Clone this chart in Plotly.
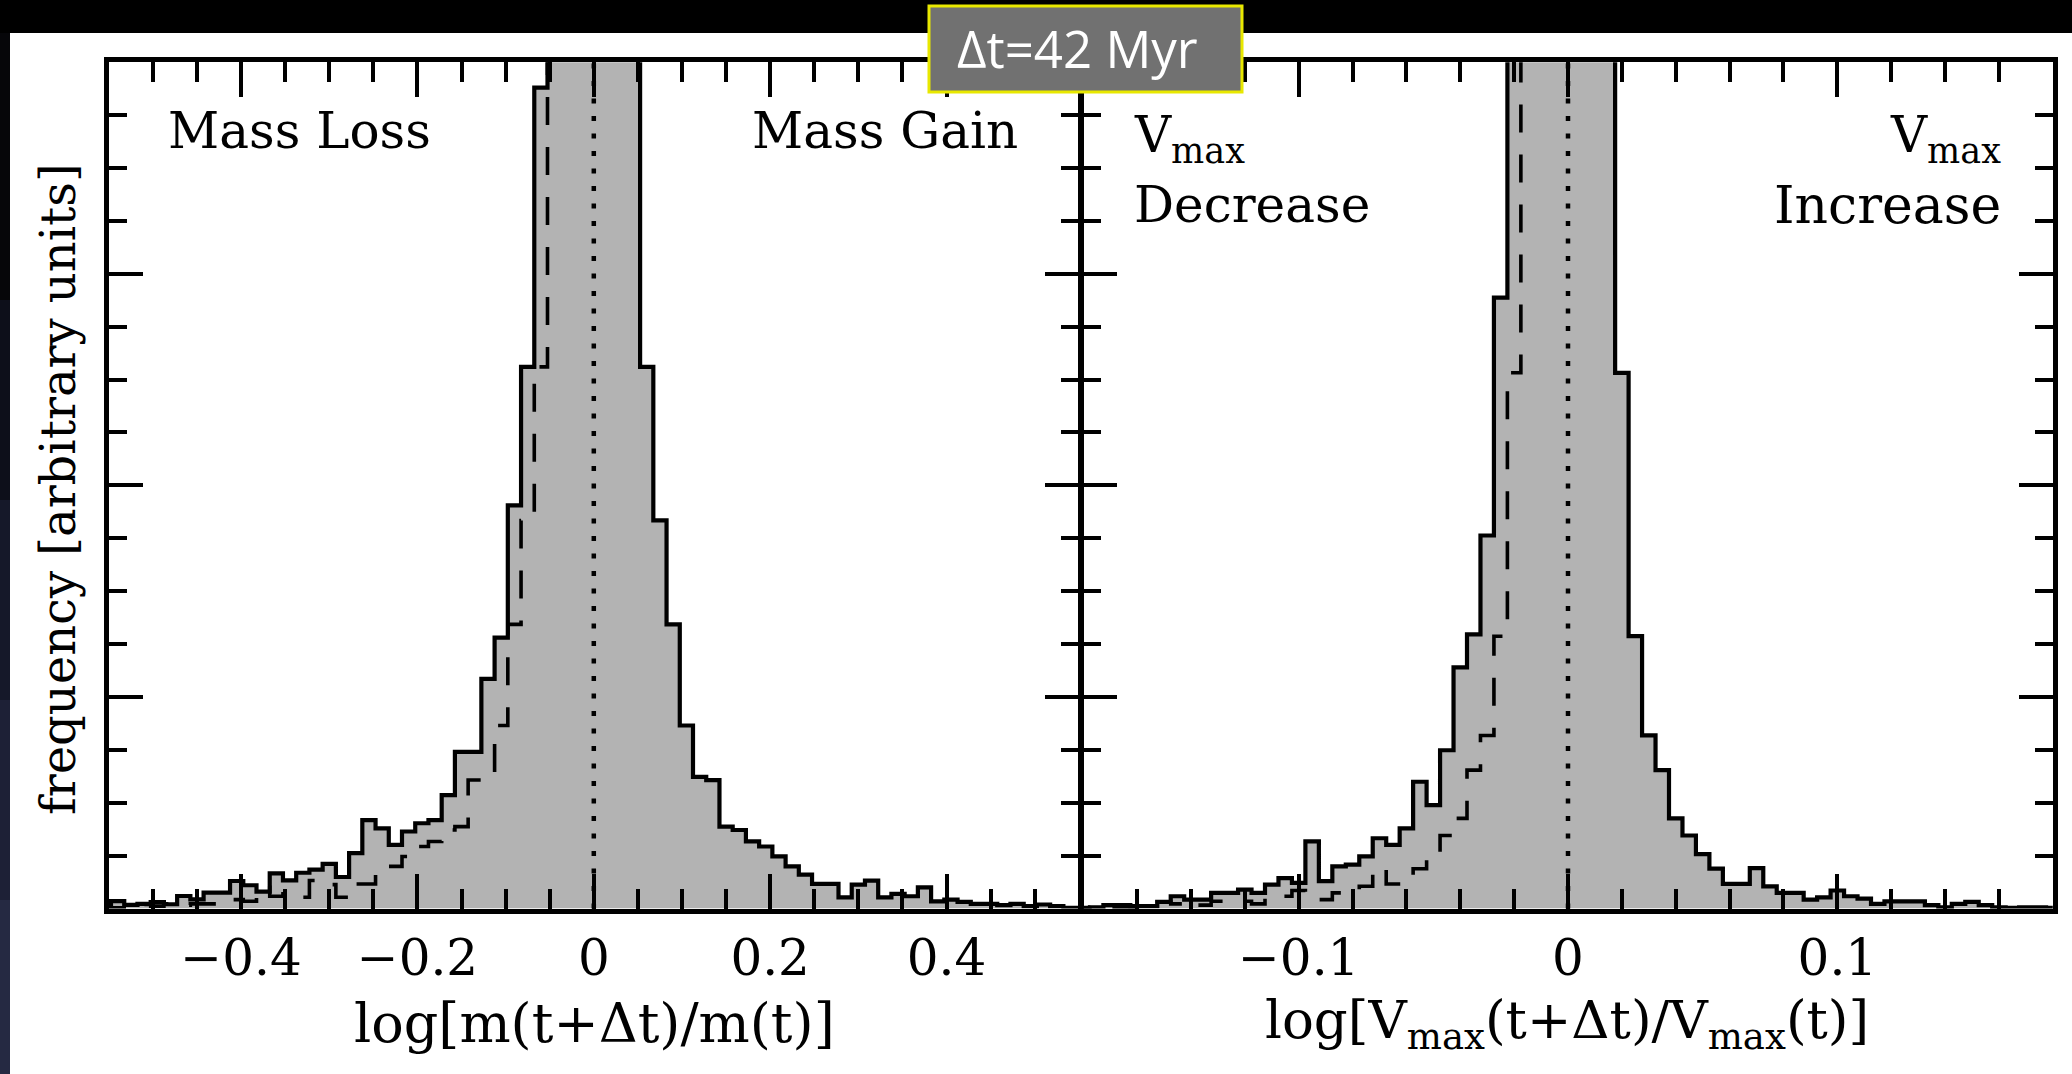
import numpy as np
import plotly.graph_objects as go

W, H = 2072, 1074

# ---------------- data ----------------
# Left panel: log[m(t+dt)/m(t)], bins of width 0.015 centred on k*0.015, k = -37..37
mass_bin_width = 0.015
mass_bin_index = list(range(-37, 38))
mass_freq = [
    0.016, 0.035, 0.017, 0.022, 0.030, 0.020, 0.059, 0.043, 0.075, 0.075,   # k=-37..-28
    0.130, 0.110, 0.080, 0.166, 0.133, 0.169, 0.184, 0.211, 0.149, 0.262,   # k=-27..-18
    0.418, 0.379, 0.301, 0.364, 0.403, 0.418, 0.536, 0.740, 0.740, 1.085,   # k=-17..-8
    1.280, 1.905, 2.560, 3.880, 5.400, 7.600, 9.300, 9.800, 8.900, 6.900,   # k=-7..2
    4.800, 2.560, 1.834, 1.343, 0.865, 0.622, 0.607, 0.387, 0.371, 0.317,   # k=3..12
    0.293, 0.246, 0.199, 0.160, 0.116, 0.116, 0.053, 0.113, 0.132, 0.053,   # k=13..22
    0.069, 0.058, 0.100, 0.034, 0.042, 0.031, 0.022, 0.022, 0.016, 0.022,   # k=23..32
    0.011, 0.019, 0.011, 0.003, 0.003,                                      # k=33..37
]

# Right panel: log[Vmax(t+dt)/Vmax(t)], bins of width 0.005 centred on k*0.005, k = -37..37
vmax_bin_width = 0.005
vmax_bin_index = list(range(-37, 38))
vmax_freq = [
    0.003, 0.003, 0.006, 0.016, 0.016, 0.011, 0.011, 0.031, 0.058, 0.042,   # k=-37..-28
    0.042, 0.074, 0.074, 0.089, 0.074, 0.113, 0.144, 0.121, 0.317, 0.129,   # k=-27..-18
    0.199, 0.207, 0.246, 0.332, 0.301, 0.379, 0.599, 0.489, 0.748, 1.140,   # k=-17..-8
    1.296, 1.763, 2.887, 4.600, 6.400, 8.200, 9.500, 9.600, 8.600, 6.800,   # k=-7..2
    4.900, 2.532, 1.287, 0.818, 0.654, 0.426, 0.345, 0.257, 0.188, 0.116,   # k=3..12
    0.116, 0.191, 0.105, 0.074, 0.074, 0.042, 0.053, 0.085, 0.058, 0.047,   # k=13..22
    0.022, 0.034, 0.034, 0.034, 0.016, 0.006, 0.022, 0.031, 0.016, 0.006,   # k=23..32
    0.003, 0.006, 0.006, 0.003, 0.003,                                      # k=33..37
]

mass_ticks = [-0.4, -0.2, 0, 0.2, 0.4]
vmax_ticks = [-0.1, 0, 0.1]

# ---------------- helpers ----------------
def px(x):
    return x / W

def py(y):
    return 1 - y / H

def step_xy(index, values, width):
    centers = np.array(index) * width
    x = list(centers - width / 2) + [centers[-1] + width / 2]
    y = list(values) + [values[-1]]
    return x, y

def mirrored(index, values):
    # dashed curve: the positive-side histogram reflected about zero (k <= -3)
    lookup = dict(zip(index, values))
    idx = [k for k in index if k <= -3]
    vals = [lookup.get(-k, 0.0) for k in idx]
    return idx, vals

GRAY = "#b3b3b3"
SERIF = "DejaVu Serif"
LW = 4.5

fig = go.Figure()

panels = [
    (mass_bin_index, mass_freq, mass_bin_width, "x", "y"),
    (vmax_bin_index, vmax_freq, vmax_bin_width, "x2", "y2"),
]
for idx, vals, w, xa, ya in panels:
    xs, ys = step_xy(idx, vals, w)
    fig.add_trace(go.Scatter(
        x=xs, y=ys, mode="lines", xaxis=xa, yaxis=ya,
        line=dict(color="black", width=4.2, shape="hv"),
        fill="tozeroy", fillcolor=GRAY, showlegend=False, hoverinfo="skip"))
    midx, mvals = mirrored(idx, vals)
    xd, yd = step_xy(midx, mvals, w)
    fig.add_trace(go.Scatter(
        x=xd, y=yd, mode="lines", xaxis=xa, yaxis=ya,
        line=dict(color="black", width=3.6, shape="hv", dash="28px,22px"),
        showlegend=False, hoverinfo="skip"))

# axis lines are drawn just outside the domain: offsets keep them on the reference frame
x_left = [px(108.8), px(1078.8)]
x_right = [px(1083.2), px(2052.8)]
y_dom = [py(908.5), py(62.2)]

def xaxis_cfg(domain, rng, ticks, minor_dtick, anchor):
    return dict(
        domain=domain, range=rng, tickmode="array", tickvals=ticks,
        ticks="inside", ticklen=35, tickwidth=3.5, tickcolor="black",
        showline=True, linewidth=LW, linecolor="black", mirror="allticks",
        showgrid=False, zeroline=False, anchor=anchor,
        tickfont=dict(family=SERIF, size=50, color="black"),
        ticklabelstandoff=2,
        minor=dict(ticks="inside", ticklen=20, tickwidth=3.5, tickcolor="black",
                   dtick=minor_dtick, tick0=0, showgrid=False),
    )

def yaxis_cfg(anchor):
    return dict(
        domain=y_dom, range=[0, 4], tick0=0, dtick=1,
        ticks="inside", ticklen=34, tickwidth=3.5, tickcolor="black",
        showticklabels=False, showline=True, linewidth=LW, linecolor="black",
        mirror="allticks", showgrid=False, zeroline=False, anchor=anchor,
        minor=dict(ticks="inside", ticklen=18, tickwidth=3.5, tickcolor="black",
                   dtick=0.25, tick0=0, showgrid=False),
    )

shapes = []
# slide background
shapes.append(dict(type="rect", xref="paper", yref="paper", x0=px(10), x1=1, y0=0, y1=py(33),
                   fillcolor="white", line=dict(width=0), layer="below"))
strip = [(33, 300, "#060609"), (300, 500, "#0d0f1a"), (500, 700, "#151829"),
         (700, 900, "#1d2036"), (900, 1074, "#252942")]
for a, b, c in strip:
    shapes.append(dict(type="rect", xref="paper", yref="paper", x0=0, x1=px(10), y0=py(b), y1=py(a),
                       fillcolor=c, line=dict(width=0), layer="below"))
# zero lines
for xa in ["x", "x2"]:
    shapes.append(dict(type="line", xref=xa, yref="y domain" if xa == "x" else "y2 domain",
                       x0=0, x1=0, y0=0, y1=1,
                       line=dict(color="black", width=4.5, dash="5px,12.5px"), layer="above"))
# title box
shapes.append(dict(type="rect", xref="paper", yref="paper", x0=px(929), x1=px(1242), y0=py(92), y1=py(6),
                   fillcolor="#717171", line=dict(color="#e8e800", width=3), layer="above"))

ann_font = dict(family=SERIF, size=50, color="black")
annotations = [
    dict(text="Δt=42 Myr", x=px(1077), y=py(48), font=dict(family="Open Sans", size=51, color="white")),
    dict(text="log[m(t+Δt)/m(t)]", x=px(594), y=py(1023), font=dict(family=SERIF, size=54, color="black")),
    dict(text="log[V<sub>max</sub>(t+Δt)/V<sub>max</sub>(t)]", x=px(1567), y=py(1023),
         font=dict(family=SERIF, size=53, color="black")),
    dict(text="frequency [arbitrary units]", x=px(58), y=py(489), textangle=-90,
         font=dict(family=SERIF, size=48, color="black")),
    dict(text="Mass Loss", x=px(166), y=py(131), xanchor="left", font=ann_font),
    dict(text="Mass Gain", x=px(1020), y=py(131), xanchor="right", font=ann_font),
    dict(text="V<sub>max</sub>", x=px(1132), y=py(138), xanchor="left", font=ann_font),
    dict(text="Decrease", x=px(1132), y=py(205), xanchor="left", font=ann_font),
    dict(text="V<sub>max</sub>", x=px(2003), y=py(138), xanchor="right", font=ann_font),
    dict(text="Increase", x=px(2003), y=py(205), xanchor="right", font=dict(family=SERIF, size=52, color="black")),
]
for a in annotations:
    a.update(xref="paper", yref="paper", showarrow=False)
    a.setdefault("xanchor", "center")
    a.setdefault("yanchor", "middle")

fig.update_layout(
    width=W, height=H, margin=dict(l=0, r=0, t=0, b=0),
    paper_bgcolor="black", plot_bgcolor="white",
    xaxis=xaxis_cfg(x_left, [-0.55, 0.55], mass_ticks, 0.05, "y"),
    yaxis=yaxis_cfg("x"),
    xaxis2=xaxis_cfg(x_right, [-0.18, 0.18], vmax_ticks, 0.02, "y2"),
    yaxis2=yaxis_cfg("x2"),
    shapes=shapes, annotations=annotations, showlegend=False,
)

fig.write_html("out.html")
